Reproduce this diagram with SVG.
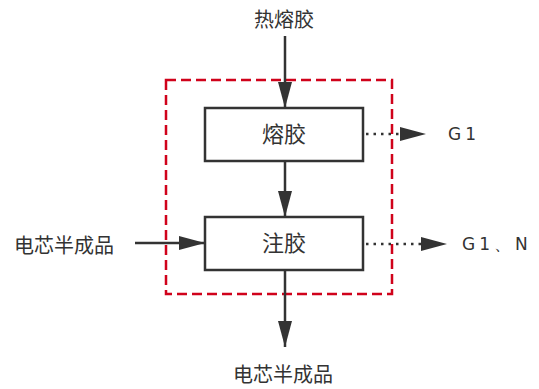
<svg xmlns="http://www.w3.org/2000/svg" width="539" height="389" viewBox="0 0 539 389">
<style>
.t{font-family:"Noto Sans CJK SC","Noto Sans",sans-serif;font-size:20px;fill:#333;}
.b{font-size:22px;}
.g{font-family:"DejaVu Sans","Noto Sans",sans-serif;font-size:17px;fill:#333;letter-spacing:4px;}
.box{fill:#fff;stroke:#333;stroke-width:2.5;}
.ln{stroke:#333;stroke-width:2.5;fill:none;}
.dot{stroke:#333;stroke-width:2.5;fill:none;stroke-dasharray:2.5 5;}
</style>
<defs>
<marker id="ah2" markerWidth="26" markerHeight="14" refX="26" refY="7" orient="auto" markerUnits="userSpaceOnUse" viewBox="0 0 26 14">
<path d="M0,0 L26,7 L0,14 Z" fill="#333"/>
</marker>
</defs>
<rect x="166" y="80" width="226" height="214" fill="none" stroke="#d0021b" stroke-width="2.5" stroke-dasharray="10 5"/>
<g id="connectors">
<line class="ln" x1="285" y1="36" x2="285" y2="108" marker-end="url(#ah2)"/>
<line class="ln" x1="285" y1="161" x2="285" y2="217" marker-end="url(#ah2)"/>
<line class="ln" x1="285" y1="270" x2="285" y2="347" marker-end="url(#ah2)"/>
<line class="ln" x1="135" y1="243" x2="205" y2="243" marker-end="url(#ah2)"/>
<line class="dot" x1="366" y1="134" x2="400" y2="134"/>
<path d="M400,127 L426,134 L400,141 Z" fill="#333"/>
<line class="dot" x1="366" y1="244" x2="421" y2="244"/>
<path d="M421,237 L447,244 L421,251 Z" fill="#333"/>
</g>
<g id="node-melt">
<rect class="box" x="205" y="108" width="158" height="53"/>
<text class="t b" x="284" y="142" text-anchor="middle">熔胶</text>
</g>
<g id="node-inject">
<rect class="box" x="205" y="217" width="158" height="53"/>
<text class="t b" x="284" y="251" text-anchor="middle">注胶</text>
</g>
<g id="label-top"><text class="t" x="284" y="27" text-anchor="middle">热熔胶</text></g>
<g id="label-left"><text class="t" x="64" y="253" text-anchor="middle">电芯半成品</text></g>
<g id="label-bottom"><text class="t" x="283" y="382" text-anchor="middle">电芯半成品</text></g>
<g id="label-g1"><text class="g" x="448" y="140">G1</text></g>
<g id="label-g1n"><text class="g" x="462" y="250">G1、N</text></g>
</svg>
